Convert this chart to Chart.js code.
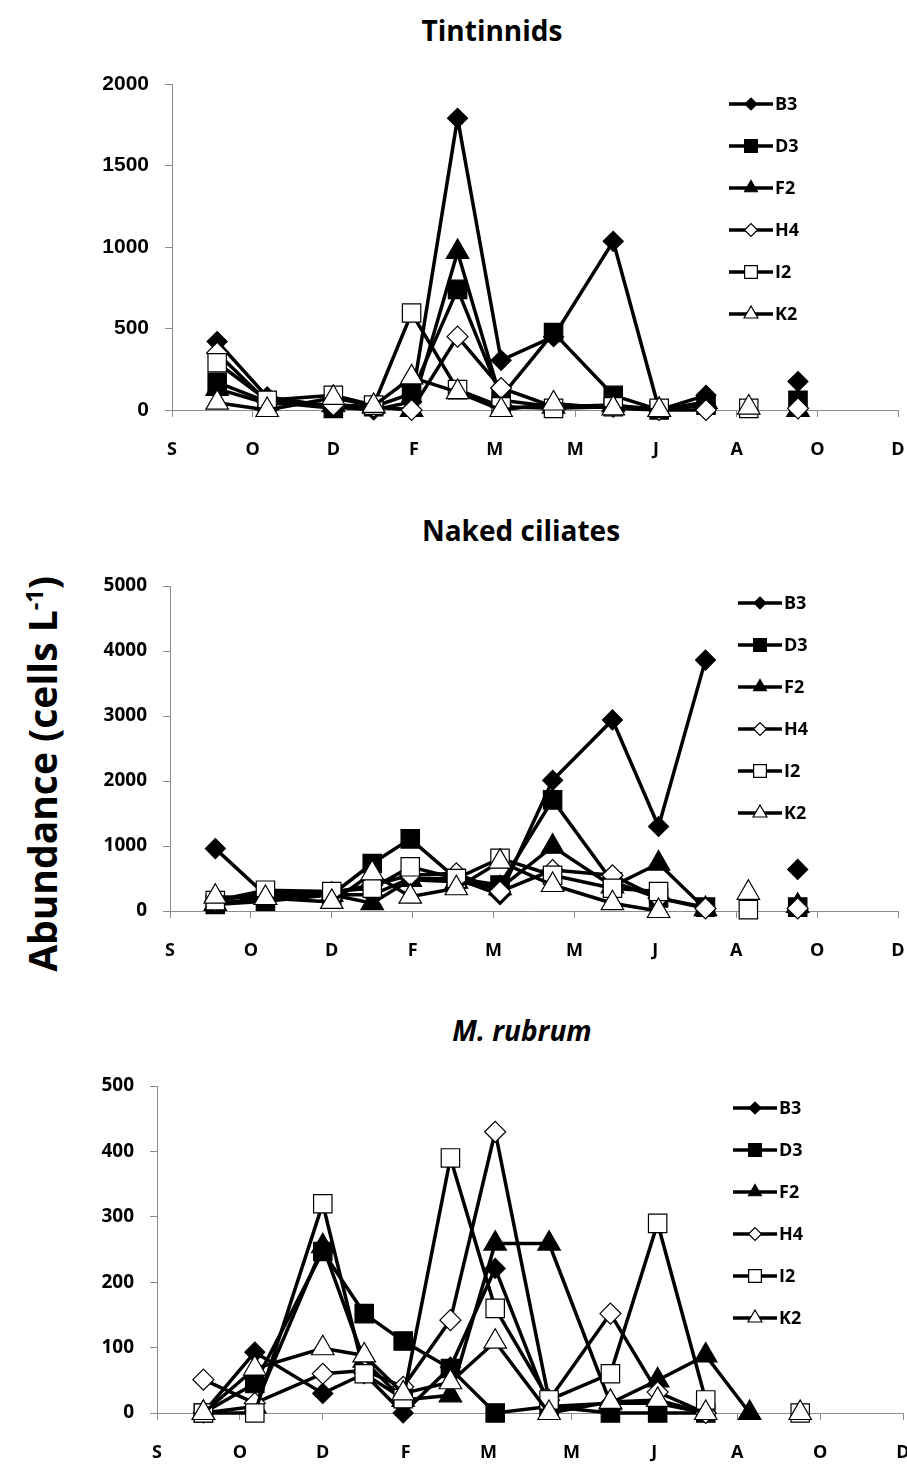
<!DOCTYPE html>
<html>
<head>
<meta charset="utf-8">
<script src="https://cdn.jsdelivr.net/npm/chart.js@4.4.1/dist/chart.umd.min.js"></script>
<style>
  body { margin: 0; background: #fff; width: 907px; height: 1465px; position: relative; overflow: hidden; font-family: 'Open Sans', sans-serif; }
  canvas { position: absolute; left: 0; }
  .ttl { position: absolute; font-weight: bold; font-size: 28px; line-height: 28px; transform: translate(-50%, -50%); white-space: nowrap; color: #000; }
  #ylab { position: absolute; left: 38px; top: 774px; transform: translate(-50%, -50%) rotate(-90deg); font-weight: bold; font-size: 39px; line-height: 39px; white-space: nowrap; }
  #ylab sup { font-size: 60%; }
</style>
</head>
<body>
<div class="ttl" style="left:492px;top:30px">Tintinnids</div>
<div class="ttl" style="left:521px;top:530px">Naked ciliates</div>
<div class="ttl" style="left:522px;top:1030px;font-style:italic">M. rubrum</div>
<div id="ylab">Abundance (cells L<sup>-1</sup>)</div>
<canvas id="tint" width="907" height="480" style="top:0px"></canvas>
<canvas id="naked" width="907" height="500" style="top:480px"></canvas>
<canvas id="rubrum" width="907" height="485" style="top:980px"></canvas>
<script>
// sampling dates, in axis units (one unit per labelled tick S..D)
const sampleDates = [0.56, 1.18, 2.0, 2.5, 2.97, 3.54, 4.08, 4.73, 5.47, 6.04, 6.62, 7.15, 7.76]
const monthTicks = ['S', 'O', 'D', 'F', 'M', 'M', 'J', 'A', 'O', 'D']
const stations = ['B3', 'D3', 'F2', 'H4', 'I2', 'K2']

// Tintinnids (cells L-1)
const tintB3 = [420, 80, 20, 0, 50, 1790, 305, 450, 1035, 0, 90, null, 175]
const tintD3 = [170, 50, 10, 20, 100, 740, 80, 475, 90, 0, 30, null, 60]
const tintF2 = [130, 40, 30, 20, 0, 970, 60, 20, 30, 0, 50, null, 0]
const tintH4 = [350, 50, 30, 20, 0, 450, 135, 20, 20, 0, 0, null, 10]
const tintI2 = [290, 60, 90, 30, 595, 125, 20, 10, 20, 10, null, 10, null]
const tintK2 = [45, 0, 75, 25, 200, 110, 0, 40, 10, 0, null, 15, null]

// Naked ciliates
const nakedB3 = [960, 250, 250, 250, 500, 500, 250, 2010, 2940, 1300, 3860, null, 640]
const nakedD3 = [100, 150, 250, 730, 1110, 500, 400, 1710, 450, 200, 60, null, 60]
const nakedF2 = [110, 200, 250, 120, 480, 450, 350, 990, 380, 730, 30, null, 80]
const nakedH4 = [150, 280, 280, 400, 550, 580, 300, 630, 550, 200, 40, null, 40]
const nakedI2 = [160, 320, 300, 350, 680, 500, 810, 550, 350, 300, null, 20, null]
const nakedK2 = [220, 200, 140, 580, 220, 350, 760, 400, 120, 0, null, 280, null]

// M. rubrum
const rubB3 = [0, 93, 30, 60, 0, 70, 221, 10, 15, 15, 0, null, null]
const rubD3 = [0, 45, 247, 152, 110, 68, 0, 10, 0, 0, 0, null, null]
const rubF2 = [0, 10, 255, 80, 20, 27, 259, 259, 15, 50, 88, 0, null]
const rubH4 = [51, 15, 60, 65, 40, 142, 430, 20, 152, 32, 0, null, null]
const rubI2 = [0, 0, 320, 60, 22, 390, 160, 20, 60, 290, 20, null, 0]
const rubK2 = [0, 68, 99, 88, 30, 47, 109, 0, 17, 20, 0, null, 0]

const markerStyle = {
    B3: { shape: 'rectRot', fill: '#000', r: 10, lr: 6 },
    D3: { shape: 'rect', fill: '#000', r: 13, lr: 9 },
    F2: { shape: 'triangle', fill: '#000', r: 13, lr: 7.5 },
    H4: { shape: 'rectRot', fill: '#fff', r: 10.5, lr: 6.5 },
    I2: { shape: 'rect', fill: '#fff', r: 13, lr: 9 },
    K2: { shape: 'triangle', fill: '#fff', r: 13, lr: 8 }
}

const axisGray = '#8c8c8c'

function drawMarker(ctx, shape, x, y, r, fill) {
    ctx.beginPath()
    if (shape === 'rectRot') {
        ctx.moveTo(x - r, y); ctx.lineTo(x, y - r); ctx.lineTo(x + r, y); ctx.lineTo(x, y + r); ctx.closePath()
    } else if (shape === 'rect') {
        const s = r * Math.SQRT1_2
        ctx.rect(x - s, y - s, 2 * s, 2 * s)
    } else {
        const a = 2 * Math.PI / 3
        ctx.moveTo(x, y - r)
        ctx.lineTo(x + Math.sin(a) * r, y - Math.cos(a) * r)
        ctx.lineTo(x + Math.sin(2 * a) * r, y - Math.cos(2 * a) * r)
        ctx.closePath()
    }
    ctx.fillStyle = fill
    ctx.fill()
    ctx.lineWidth = 1.2
    ctx.strokeStyle = '#000'
    ctx.stroke()
}

// legend drawn inside the plot, like the original
const stationKey = {
    id: 'stationKey',
    afterDatasetsDraw(chart, args, opts) {
        const ctx = chart.ctx
        ctx.save()
        chart.data.datasets.forEach((ds, i) => {
            const st = markerStyle[ds.label]
            const y = opts.y + i * 42
            ctx.beginPath()
            ctx.moveTo(opts.x, y)
            ctx.lineTo(opts.x + 44, y)
            ctx.lineWidth = 3.5
            ctx.strokeStyle = '#000'
            ctx.stroke()
            drawMarker(ctx, st.shape, opts.x + 22, y, st.lr, st.fill)
            ctx.fillStyle = '#000'
            ctx.font = 'bold 18px "Open Sans"'
            ctx.textBaseline = 'middle'
            ctx.textAlign = 'left'
            ctx.fillText(ds.label, opts.x + 46, y + 1)
        })
        ctx.restore()
    }
}

function makeDatasets(seriesList) {
    return stations.map((name, i) => {
        const st = markerStyle[name]
        return {
            label: name,
            data: sampleDates.map((d, k) => ({ x: d, y: seriesList[i][k] })),
            borderColor: '#000',
            borderWidth: 3.5,
            pointStyle: st.shape,
            pointRadius: st.r,
            pointHoverRadius: st.r,
            pointBackgroundColor: st.fill,
            pointBorderColor: '#000',
            pointBorderWidth: 1.2,
            order: stations.length - i,
            spanGaps: false,
            tension: 0,
            clip: false
        }
    })
}

function drawPanel(id, series, p) {
    new Chart(document.getElementById(id), {
        type: 'line',
        data: { datasets: makeDatasets(series) },
        plugins: [stationKey],
        options: {
            responsive: false,
            animation: false,
            events: [],
            layout: { autoPadding: false, padding: { top: p.plotTop, right: 907 - p.right, left: 0, bottom: 0 } },
            plugins: {
                legend: { display: false },
                tooltip: { enabled: false },
                stationKey: { x: p.keyX, y: p.keyY }
            },
            scales: {
                x: {
                    type: 'linear', min: 0, max: 9,
                    ticks: {
                        stepSize: 1, autoSkip: false, maxRotation: 0, padding: 22, color: '#000',
                        font: { family: 'Open Sans', weight: 'bold', size: 18 },
                        callback: v => monthTicks[Math.round(v)]
                    },
                    grid: { drawOnChartArea: false, drawTicks: true, tickLength: 7, color: axisGray },
                    border: { color: axisGray, width: 1 },
                    afterFit: s => {
                        s.height = p.height - p.plotBottom
                        s.paddingLeft = 0
                        s.paddingRight = 0
                    }
                },
                y: {
                    min: 0, max: p.yMax,
                    ticks: { stepSize: p.yStep, padding: 16, color: '#000', font: p.yFont, callback: v => String(v) },
                    grid: { drawOnChartArea: false, drawTicks: true, tickLength: 7, color: axisGray },
                    border: { color: axisGray, width: 1 },
                    afterFit: s => { s.width = p.axisX }
                }
            }
        }
    })
}

const calibriLike = { family: 'Open Sans', weight: 'bold', size: 19 }

drawPanel('tint', [tintB3, tintD3, tintF2, tintH4, tintI2, tintK2],
    { height: 480, plotTop: 84, plotBottom: 410, axisX: 172, right: 898, yMax: 2000, yStep: 500,
      yFont: { family: 'Liberation Sans', weight: 'bold', size: 21 }, keyX: 729, keyY: 104 })
drawPanel('naked', [nakedB3, nakedD3, nakedF2, nakedH4, nakedI2, nakedK2],
    { height: 500, plotTop: 106, plotBottom: 431, axisX: 170, right: 898, yMax: 5000, yStep: 1000,
      yFont: calibriLike, keyX: 738, keyY: 123 })
drawPanel('rubrum', [rubB3, rubD3, rubF2, rubH4, rubI2, rubK2],
    { height: 485, plotTop: 106, plotBottom: 433, axisX: 157, right: 903, yMax: 500, yStep: 100,
      yFont: calibriLike, keyX: 733, keyY: 128 })
</script>
</body>
</html>
